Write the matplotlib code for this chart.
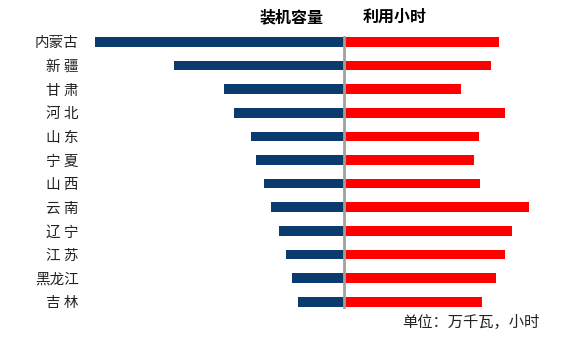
import matplotlib
matplotlib.use("Agg")
import matplotlib.pyplot as plt

plt.rcParams['font.family'] = ['Noto Sans CJK SC', 'DejaVu Sans']

provinces = ["内蒙古", "新 疆", "甘 肃", "河 北", "山 东", "宁 夏",
             "山 西", "云 南", "辽 宁", "江 苏", "黑龙江", "吉 林"]
# 装机容量 (万千瓦)
capacity = [2565, 1751, 1236, 1133, 958, 906, 824, 752, 670, 597, 536, 474]
# 利用小时
hours = [1860, 1764, 1404, 1932, 1620, 1560, 1632, 2220, 2016, 1932, 1824, 1656]

navy = "#0B3A6E"
red = "#FF0000"

fig = plt.figure(figsize=(5.83, 3.39), dpi=100)
W, H = 583, 339
bottom = 25.4 / H
height = 283.6 / H

ax_l = fig.add_axes([90 / W, bottom, (344 - 90) / W, height])
ax_r = fig.add_axes([344 / W, bottom, 200 / W, height])

y = list(range(len(provinces)))
ax_l.barh(y, capacity, height=0.41, color=navy)
ax_r.barh(y, hours, height=0.41, color=red)

ax_l.set_xlim(2620, 0)
ax_r.set_xlim(0, 2400)
for ax in (ax_l, ax_r):
    ax.set_ylim(11.5, -0.5)
    ax.set_xticks([])
    for s in ax.spines.values():
        s.set_visible(False)

ax_l.set_yticks(y)
ax_l.set_yticklabels(provinces, fontsize=10.5, color="#222222")
ax_l.tick_params(axis="y", length=0, pad=8)
ax_r.set_yticks([])

ax_r.spines['left'].set_visible(True)
ax_r.spines['left'].set_color("#A0A0A0")
ax_r.spines['left'].set_linewidth(2)
ax_r.spines['left'].set_bounds(-0.2, 11.2)
ax_r.spines['left'].set_zorder(5)

fig.text(292 / W, 1 - 17 / H, "装机容量", ha="center", va="center",
         fontsize=11.5, fontweight="bold")
fig.text(395 / W, 1 - 17 / H, "利用小时", ha="center", va="center",
         fontsize=11.5, fontweight="bold")
fig.text(539 / W, 1 - 322 / H, "单位：万千瓦，小时", ha="right", va="center",
         fontsize=11, color="#222222")

fig.savefig("out.png", dpi=100)
